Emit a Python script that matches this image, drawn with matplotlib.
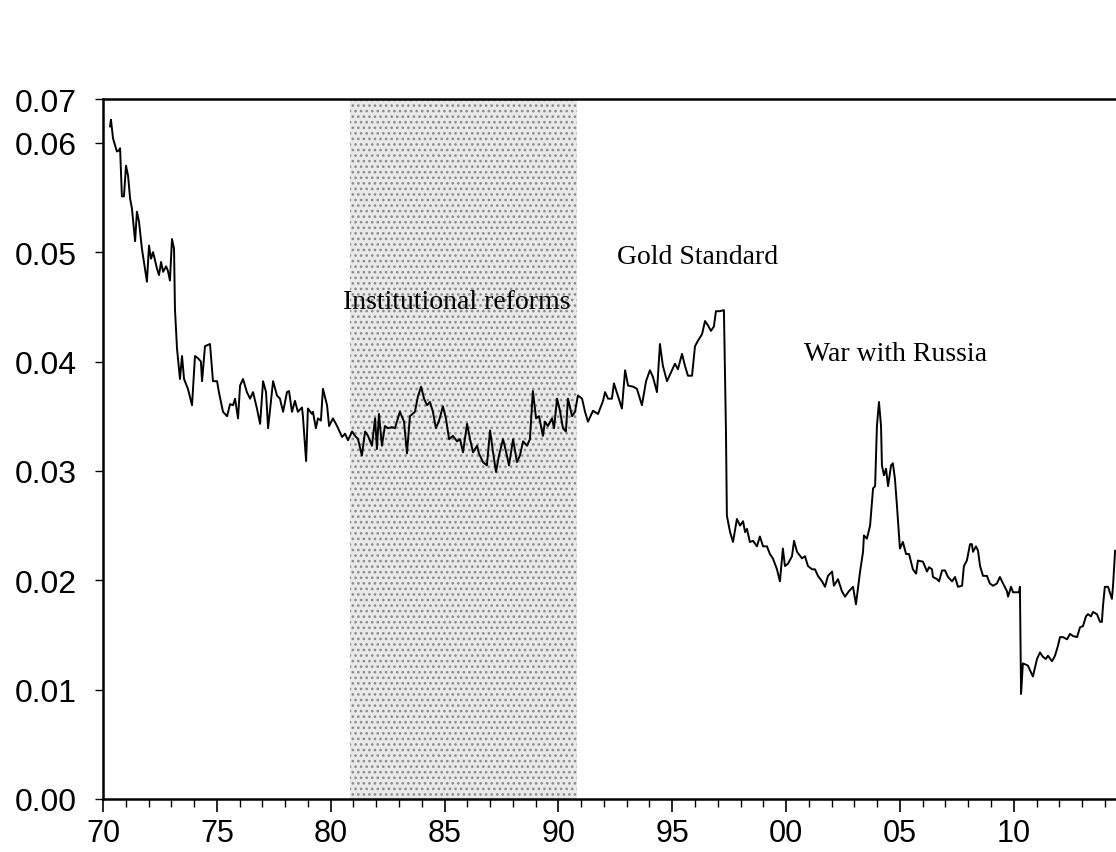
import matplotlib
matplotlib.use("Agg")
import matplotlib.pyplot as plt
from matplotlib.ticker import MultipleLocator

# series (year, value)
years = [
    1870.31, 1870.35, 1870.44, 1870.61, 1870.70, 1870.75, 1870.83, 1870.92, 1871.01, 1871.10,
    1871.19, 1871.27, 1871.41, 1871.49, 1871.58, 1871.71, 1871.93, 1872.02, 1872.11, 1872.20,
    1872.37, 1872.46, 1872.55, 1872.64, 1872.77, 1872.85, 1872.94, 1873.03, 1873.12, 1873.16,
    1873.25, 1873.38, 1873.47, 1873.56, 1873.73, 1873.91, 1874.04, 1874.17, 1874.30, 1874.35,
    1874.48, 1874.70, 1874.83, 1875.01, 1875.09, 1875.27, 1875.45, 1875.58, 1875.71, 1875.80,
    1875.93, 1876.02, 1876.15, 1876.32, 1876.46, 1876.59, 1876.76, 1876.90, 1877.03, 1877.16,
    1877.25, 1877.47, 1877.64, 1877.77, 1877.91, 1878.08, 1878.17, 1878.30, 1878.43, 1878.56,
    1878.74, 1878.78, 1878.92, 1879.00, 1879.18, 1879.22, 1879.35, 1879.44, 1879.57, 1879.66,
    1879.84, 1879.93, 1880.10, 1880.28, 1880.50, 1880.63, 1880.76, 1880.94, 1881.07, 1881.20,
    1881.37, 1881.51, 1881.64, 1881.81, 1881.95, 1882.03, 1882.12, 1882.25, 1882.38, 1882.52,
    1882.69, 1882.82, 1883.04, 1883.22, 1883.35, 1883.48, 1883.70, 1883.83, 1883.97, 1884.10,
    1884.23, 1884.36, 1884.49, 1884.62, 1884.76, 1884.93, 1885.06, 1885.20, 1885.37, 1885.55,
    1885.68, 1885.81, 1885.99, 1886.12, 1886.25, 1886.43, 1886.51, 1886.69, 1886.86, 1887.00,
    1887.13, 1887.26, 1887.39, 1887.57, 1887.74, 1887.83, 1888.01, 1888.18, 1888.31, 1888.45,
    1888.62, 1888.75, 1888.88, 1889.02, 1889.15, 1889.32, 1889.41, 1889.54, 1889.72, 1889.81,
    1889.94, 1890.07, 1890.20, 1890.33, 1890.42, 1890.60, 1890.73, 1890.86, 1891.04, 1891.17,
    1891.30, 1891.52, 1891.74, 1891.96, 1892.05, 1892.18, 1892.35, 1892.44, 1892.62, 1892.79,
    1892.93, 1893.06, 1893.28, 1893.45, 1893.67, 1893.85, 1894.02, 1894.15, 1894.33, 1894.46,
    1894.59, 1894.77, 1894.99, 1895.12, 1895.25, 1895.43, 1895.56, 1895.69, 1895.87, 1896.00,
    1896.13, 1896.31, 1896.44, 1896.57, 1896.70, 1896.83, 1896.92, 1897.10, 1897.27, 1897.36,
    1897.40, 1897.54, 1897.67, 1897.84, 1897.98, 1898.11, 1898.20, 1898.28, 1898.41, 1898.55,
    1898.72, 1898.85, 1898.99, 1899.16, 1899.29, 1899.42, 1899.60, 1899.73, 1899.86, 1899.95,
    1900.08, 1900.26, 1900.35, 1900.48, 1900.70, 1900.83, 1900.96, 1901.14, 1901.27, 1901.40,
    1901.58, 1901.71, 1901.84, 1902.02, 1902.10, 1902.28, 1902.45, 1902.59, 1902.76, 1902.94,
    1903.07, 1903.25, 1903.38, 1903.42, 1903.55, 1903.69, 1903.82, 1903.91, 1903.99, 1904.08,
    1904.17, 1904.21, 1904.30, 1904.39, 1904.48, 1904.61, 1904.69, 1904.78, 1904.87, 1905.00,
    1905.13, 1905.27, 1905.40, 1905.57, 1905.71, 1905.79, 1906.01, 1906.19, 1906.28, 1906.41,
    1906.45, 1906.63, 1906.72, 1906.85, 1906.98, 1907.11, 1907.29, 1907.42, 1907.55, 1907.73,
    1907.81, 1907.94, 1908.08, 1908.16, 1908.21, 1908.34, 1908.43, 1908.52, 1908.65, 1908.82,
    1908.95, 1909.09, 1909.26, 1909.39, 1909.53, 1909.70, 1909.75, 1909.88, 1909.97, 1910.14,
    1910.23, 1910.27, 1910.32, 1910.40, 1910.62, 1910.84, 1911.02, 1911.15, 1911.28, 1911.41,
    1911.50, 1911.68, 1911.81, 1911.94, 1912.03, 1912.16, 1912.34, 1912.47, 1912.60, 1912.78,
    1912.91, 1913.04, 1913.17, 1913.26, 1913.39, 1913.48, 1913.65, 1913.79, 1913.87, 1913.92,
    1914.00, 1914.14, 1914.31, 1914.36, 1914.45,
]
values = [
    0.0615, 0.0621, 0.0604, 0.0592, 0.0593, 0.0595, 0.0551, 0.0551, 0.0579, 0.0570,
    0.0549, 0.0540, 0.0510, 0.0537, 0.0528, 0.0503, 0.0473, 0.0506, 0.0494, 0.0500,
    0.0485, 0.0479, 0.0491, 0.0482, 0.0487, 0.0483, 0.0474, 0.0512, 0.0503, 0.0448,
    0.0412, 0.0384, 0.0405, 0.0384, 0.0375, 0.0360, 0.0405, 0.0403, 0.0400, 0.0382,
    0.0414, 0.0416, 0.0382, 0.0382, 0.0372, 0.0354, 0.0350, 0.0361, 0.0360, 0.0366,
    0.0348, 0.0378, 0.0384, 0.0372, 0.0366, 0.0372, 0.0357, 0.0343, 0.0382, 0.0372,
    0.0339, 0.0382, 0.0369, 0.0366, 0.0354, 0.0372, 0.0373, 0.0354, 0.0364, 0.0354,
    0.0358, 0.0350, 0.0309, 0.0357, 0.0352, 0.0354, 0.0339, 0.0348, 0.0346, 0.0375,
    0.0360, 0.0341, 0.0348, 0.0341, 0.0331, 0.0334, 0.0328, 0.0336, 0.0332, 0.0329,
    0.0314, 0.0336, 0.0332, 0.0323, 0.0348, 0.0320, 0.0352, 0.0323, 0.0341, 0.0339,
    0.0340, 0.0339, 0.0354, 0.0345, 0.0316, 0.0350, 0.0354, 0.0368, 0.0377, 0.0366,
    0.0360, 0.0363, 0.0354, 0.0339, 0.0346, 0.0359, 0.0348, 0.0329, 0.0332, 0.0327,
    0.0329, 0.0317, 0.0343, 0.0329, 0.0317, 0.0323, 0.0316, 0.0308, 0.0305, 0.0337,
    0.0317, 0.0299, 0.0314, 0.0329, 0.0314, 0.0305, 0.0329, 0.0308, 0.0314, 0.0327,
    0.0323, 0.0329, 0.0373, 0.0348, 0.0350, 0.0332, 0.0345, 0.0341, 0.0348, 0.0339,
    0.0366, 0.0355, 0.0339, 0.0336, 0.0366, 0.0350, 0.0354, 0.0369, 0.0366, 0.0354,
    0.0345, 0.0355, 0.0352, 0.0364, 0.0372, 0.0366, 0.0366, 0.0380, 0.0368, 0.0357,
    0.0392, 0.0378, 0.0377, 0.0375, 0.0360, 0.0382, 0.0392, 0.0386, 0.0372, 0.0416,
    0.0396, 0.0382, 0.0392, 0.0398, 0.0393, 0.0407, 0.0396, 0.0387, 0.0387, 0.0414,
    0.0419, 0.0425, 0.0437, 0.0433, 0.0428, 0.0432, 0.0446, 0.0446, 0.0447, 0.0336,
    0.0259, 0.0244, 0.0235, 0.0256, 0.0250, 0.0254, 0.0244, 0.0247, 0.0235, 0.0236,
    0.0231, 0.0240, 0.0231, 0.0231, 0.0224, 0.0220, 0.0210, 0.0199, 0.0229, 0.0213,
    0.0215, 0.0222, 0.0236, 0.0226, 0.0220, 0.0222, 0.0213, 0.0210, 0.0210, 0.0204,
    0.0199, 0.0194, 0.0204, 0.0208, 0.0195, 0.0201, 0.0190, 0.0185, 0.0190, 0.0194,
    0.0178, 0.0208, 0.0226, 0.0241, 0.0238, 0.0250, 0.0284, 0.0286, 0.0341, 0.0363,
    0.0341, 0.0305, 0.0296, 0.0302, 0.0286, 0.0305, 0.0307, 0.0293, 0.0268, 0.0229,
    0.0235, 0.0224, 0.0224, 0.0210, 0.0206, 0.0218, 0.0217, 0.0208, 0.0212, 0.0210,
    0.0203, 0.0201, 0.0199, 0.0209, 0.0209, 0.0203, 0.0199, 0.0203, 0.0194, 0.0195,
    0.0213, 0.0218, 0.0233, 0.0233, 0.0226, 0.0231, 0.0227, 0.0213, 0.0204, 0.0204,
    0.0197, 0.0195, 0.0197, 0.0203, 0.0197, 0.0190, 0.0185, 0.0194, 0.0189, 0.0189,
    0.0189, 0.0194, 0.0096, 0.0124, 0.0122, 0.0112, 0.0128, 0.0134, 0.0130, 0.0128,
    0.0131, 0.0126, 0.0131, 0.0140, 0.0148, 0.0148, 0.0146, 0.0151, 0.0149, 0.0148,
    0.0157, 0.0158, 0.0167, 0.0169, 0.0167, 0.0171, 0.0169, 0.0162, 0.0162, 0.0177,
    0.0194, 0.0194, 0.0183, 0.0195, 0.0227,
]

shade_start, shade_end = 1880.85, 1890.82

notes = ["Institutional reforms", "Gold Standard", "War with Russia"]
note_x = [1885.55, 1896.13, 1904.83]
note_y = [0.0455, 0.0496, 0.0407]

xtick_years = [1870, 1875, 1880, 1885, 1890, 1895, 1900, 1905, 1910]
xtick_labels = ["70", "75", "80", "85", "90", "95", "00", "05", "10"]
ytick_vals = [0.00, 0.01, 0.02, 0.03, 0.04, 0.05, 0.06]
ytick_labels = ["0.00", "0.01", "0.02", "0.03", "0.04", "0.05", "0.06"]
top_label = "0.07"

fig = plt.figure(figsize=(11.16, 8.53), dpi=100)
ax = fig.add_axes([103 / 1116, 53 / 853, 1013 / 1116, 700 / 853])

ymax = 0.0640
ax.set_xlim(1870, 1914.49)
ax.set_ylim(0, ymax)

# dotted halftone shading
plt.rcParams["hatch.linewidth"] = 1.1
ax.axvspan(shade_start, shade_end, facecolor="#e9e9e9", edgecolor="#8c8c8c",
           hatch="...", linewidth=0, zorder=0)

ax.plot(years, values, color="black", linewidth=1.4, zorder=3)

for t, x, y in zip(notes, note_x, note_y):
    ax.text(x, y, t, ha="center", va="center", fontsize=20,
            family="Liberation Serif", zorder=4)

ax.set_xticks(xtick_years)
ax.set_xticklabels(xtick_labels)
ax.xaxis.set_minor_locator(MultipleLocator(1))
ax.set_yticks(ytick_vals + [ymax])
ax.set_yticklabels(ytick_labels + [top_label])

for lab in ax.get_xticklabels():
    lab.set_family("Liberation Sans")
    lab.set_fontsize(22)
for lab in ax.get_yticklabels():
    lab.set_family("Liberation Sans")
    lab.set_fontsize(23)

ax.tick_params(axis="x", which="major", direction="out", length=9, width=1.2, pad=5)
ax.tick_params(axis="x", which="minor", direction="out", length=6, width=1.0)
ax.tick_params(axis="y", which="major", direction="out", length=6, width=1.0, pad=13)

for side in ["left", "bottom", "top"]:
    ax.spines[side].set_linewidth(1.8)
ax.spines["right"].set_visible(False)

fig.savefig("out.png", dpi=100)
